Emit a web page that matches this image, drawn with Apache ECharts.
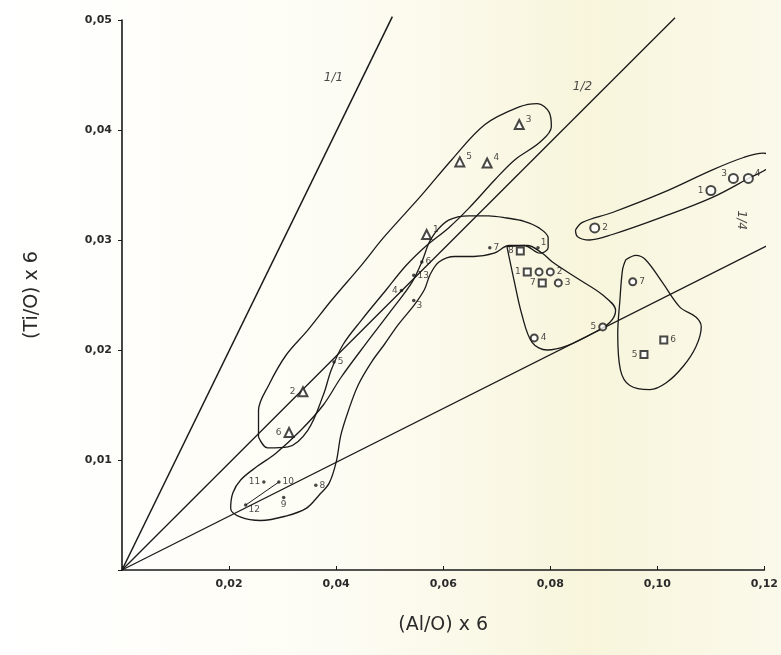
<!DOCTYPE html>
<html><head><meta charset="utf-8">
<script src="https://cdn.jsdelivr.net/npm/echarts@6/dist/echarts.min.js"></script>
<style>html,body{margin:0;padding:0;background:#fff}#c{width:781px;height:655px}</style>
</head><body><div id="c"></div><script>
// ---- axes ----
const xTicks = [0, 0.02, 0.04, 0.06, 0.08, 0.10, 0.12];
const yTicks = [0, 0.01, 0.02, 0.03, 0.04, 0.05];
const xName = '(Al/O) x 6';
const yName = '(Ti/O) x 6';

// ---- reference ratio lines (end points) ----
const line11 = [[0, 0], [0.0505, 0.0503]];
const line12 = [[0, 0], [0.1033, 0.0502]];
const line14 = [[0, 0], [0.1226, 0.0300]];
const lineLabels = ['1/1', '1/2', '1/4'];
const lineLabelX = [0.0395, 0.0860, 0.1157];
const lineLabelY = [0.0447, 0.0439, 0.0318];

// ---- triangles ----
const triLabels = ['3', '5', '4', '1', '2', '6'];
const triX = [0.0742, 0.0631, 0.0682, 0.0569, 0.0338, 0.0312];
const triY = [0.0405, 0.0371, 0.0370, 0.0305, 0.0162, 0.0125];

// ---- small dots ----
const dotLabels = ['7', '1', '6', '13', '4', '3', '5', '11', '10', '9', '8', '12'];
const dotX = [0.0687, 0.0777, 0.0560, 0.0545, 0.0522, 0.0545, 0.0396, 0.0265, 0.0293, 0.0302, 0.0362, 0.0231];
const dotY = [0.0293, 0.0293, 0.0280, 0.0268, 0.0254, 0.0245, 0.0189, 0.0080, 0.0080, 0.0066, 0.0077, 0.0059];
const tieX = [0.0231, 0.0293];
const tieY = [0.0059, 0.0080];

// ---- squares ----
const sqLabels = ['8', '1', '7', '5', '6'];
const sqX = [0.0744, 0.0757, 0.0785, 0.0975, 0.1012];
const sqY = [0.0290, 0.0271, 0.0261, 0.0196, 0.0209];

// ---- circles ----
const circLabels = ['', '2', '3', '4', '5', '7'];
const circX = [0.0779, 0.0800, 0.0815, 0.0770, 0.0898, 0.0954];
const circY = [0.0271, 0.0271, 0.0261, 0.0211, 0.0221, 0.0262];

// ---- double circles (right group) ----
const dblLabels = ['2', '1', '3', '4'];
const dblX = [0.0883, 0.1100, 0.1142, 0.1170];
const dblY = [0.0311, 0.0345, 0.0356, 0.0356];

// ---- enclosing outlines ----
const outlineTri = [[0.0255,0.0121],[0.0255,0.0145],[0.0274,0.0168],[0.0306,0.0195],[0.0347,0.0218],[0.0391,0.0245],[0.0447,0.0277],[0.0490,0.0303],[0.0560,0.0341],[0.0616,0.0373],[0.0678,0.0405],[0.0742,0.0421],[0.0776,0.0424],[0.0798,0.0416],[0.0802,0.0403],[0.0781,0.0389],[0.0734,0.0373],[0.0697,0.0355],[0.0648,0.0329],[0.0610,0.0311],[0.0569,0.0295],[0.0531,0.0277],[0.0494,0.0255],[0.0447,0.0227],[0.0413,0.0205],[0.0391,0.0182],[0.0376,0.0159],[0.0347,0.0127],[0.0310,0.0112],[0.0272,0.0111],[0.0255,0.0121]];
const outlineDots = [[0.0584,0.0306],[0.0610,0.0318],[0.0648,0.0322],[0.0685,0.0322],[0.0719,0.0320],[0.0751,0.0317],[0.0779,0.0311],[0.0796,0.0302],[0.0796,0.0293],[0.0781,0.0288],[0.0751,0.0295],[0.0723,0.0295],[0.0695,0.0288],[0.0657,0.0285],[0.0622,0.0285],[0.0592,0.0280],[0.0575,0.0268],[0.0565,0.0255],[0.0546,0.0241],[0.0516,0.0223],[0.0490,0.0205],[0.0466,0.0189],[0.0441,0.0168],[0.0423,0.0145],[0.0409,0.0123],[0.0400,0.0098],[0.0387,0.0079],[0.0368,0.0068],[0.0344,0.0056],[0.0306,0.0049],[0.0259,0.0045],[0.0222,0.0048],[0.0203,0.0056],[0.0207,0.0070],[0.0222,0.0082],[0.0252,0.0094],[0.0287,0.0106],[0.0334,0.0127],[0.0376,0.0150],[0.0409,0.0175],[0.0456,0.0206],[0.0503,0.0236],[0.0541,0.0261],[0.0560,0.0280],[0.0573,0.0297],[0.0584,0.0306]];
const outlineMid = [[0.0719,0.0294],[0.0732,0.0264],[0.0747,0.0232],[0.0766,0.0207],[0.0794,0.0200],[0.0832,0.0204],[0.0879,0.0215],[0.0911,0.0225],[0.0922,0.0236],[0.0898,0.0250],[0.0851,0.0265],[0.0804,0.0280],[0.0785,0.0288],[0.0757,0.0295],[0.0719,0.0294]];
const outlineLow = [[0.0941,0.0282],[0.0960,0.0286],[0.0978,0.0282],[0.1010,0.0261],[0.1042,0.0239],[0.1072,0.0230],[0.1082,0.0221],[0.1072,0.0203],[0.1048,0.0185],[0.1016,0.0170],[0.0986,0.0164],[0.0948,0.0168],[0.0931,0.0182],[0.0926,0.0215],[0.0930,0.0245],[0.0935,0.0273],[0.0941,0.0282]];
const outlineRight = [[0.0847,0.0309],[0.0860,0.0316],[0.0916,0.0325],[0.1010,0.0343],[0.1104,0.0364],[0.1161,0.0375],[0.1198,0.0379],[0.1213,0.0375],[0.1208,0.0366],[0.1174,0.0357],[0.1104,0.0339],[0.1010,0.0321],[0.0916,0.0305],[0.0873,0.0300],[0.0851,0.0303],[0.0847,0.0309]];

// ---- label placement (style only) ----
const triPos = ['tr', 'tr', 'tr', 'tr', 'l', 'l'];
const dotPos = ['r', 'tr', 'r', 'r', 'l', 'br', 'r', 'l', 'r', 'b', 'r', 'br'];
const sqPos = ['l', 'l', 'l', 'l', 'r'];
const circPos = ['r', 'r', 'r', 'r', 'l', 'r'];
const dblPos = ['r', 'l', 'tl', 'tr'];
const lineLabelRot = [0, 0, -90];

const INK = '#1a1a1a';
const FONT = 'DejaVu Sans';

function labelCfg(code) {
  const base = { show: true, color: INK, fontSize: 9, fontFamily: FONT, formatter: '{b}' };
  const m = {
    r: { position: 'right', distance: 2 },
    l: { position: 'left', distance: 2 },
    tr: { position: 'right', distance: 1, offset: [0, -5] },
    tl: { position: 'left', distance: 1, offset: [0, -5] },
    br: { position: 'right', distance: 1, offset: [0, 5] },
    b: { position: 'bottom', distance: 1 }
  };
  return Object.assign(base, m[code]);
}
function pts(xs, ys, labs, pos) {
  return xs.map((x, i) => ({ value: [x, ys[i]], name: labs[i], label: labelCfg(pos[i]) }));
}
function lineSeries(data, w) {
  return { type: 'line', data: data, symbol: 'none', clip: false, silent: true,
    lineStyle: { color: INK, width: w || 1.4 }, z: 2, animation: false };
}
function outline(data) {
  return { type: 'line', data: data, symbol: 'none', clip: false, silent: true, smooth: 0.35,
    lineStyle: { color: INK, width: 1.3 }, z: 2, animation: false };
}

const fmt = v => (v === 0 ? '' : v.toFixed(2).replace('.', ','));

const chart = echarts.init(document.getElementById('c'), null, { renderer: 'canvas' });
chart.setOption({
  animation: false,
  backgroundColor: {
    type: 'linear', x: 0, y: 0, x2: 1, y2: 0,
    colorStops: [
      { offset: 0, color: '#ffffff' }, { offset: 0.45, color: '#fdfcf3' },
      { offset: 0.75, color: '#f8f5dc' }, { offset: 1, color: '#fbf9ea' }
    ]
  },
  grid: { left: 122, right: 16, top: 20, bottom: 85, containLabel: false },
  xAxis: {
    type: 'value', min: 0, max: 0.12, interval: 0.02,
    name: xName, nameLocation: 'middle', nameGap: 46,
    nameTextStyle: { color: '#2a2a2a', fontSize: 19, fontFamily: FONT },
    axisLine: { lineStyle: { color: INK, width: 1.6 } },
    axisTick: { show: true, inside: true, length: 4, lineStyle: { color: INK } },
    axisLabel: { formatter: fmt, color: '#2a2a2a', fontSize: 11, fontWeight: 'bold', fontFamily: FONT, margin: 9 },
    splitLine: { show: false }
  },
  yAxis: {
    type: 'value', min: 0, max: 0.05, interval: 0.01,
    name: yName, nameLocation: 'middle', nameGap: 80, nameRotate: 90,
    nameTextStyle: { color: '#2a2a2a', fontSize: 19, fontFamily: FONT },
    axisLine: { show: true, lineStyle: { color: INK, width: 1.6 } },
    axisTick: { show: true, inside: false, length: 4, lineStyle: { color: INK } },
    axisLabel: { formatter: fmt, color: '#2a2a2a', fontSize: 11, fontWeight: 'bold', fontFamily: FONT, margin: 10 },
    splitLine: { show: false }
  },
  series: [
    lineSeries(line11, 1.5),
    lineSeries(line12, 1.3),
    lineSeries(line14, 1.3),
    lineSeries(tieX.map((x, i) => [x, tieY[i]]), 1),
    outline(outlineTri),
    outline(outlineDots),
    outline(outlineMid),
    outline(outlineLow),
    outline(outlineRight),
    {
      type: 'scatter', symbol: 'emptyTriangle', symbolSize: 9, z: 5, silent: true,
      itemStyle: { color: INK, borderWidth: 1.5 },
      data: pts(triX, triY, triLabels, triPos)
    },
    {
      type: 'scatter', symbol: 'circle', symbolSize: 3.5, z: 5, silent: true,
      itemStyle: { color: INK },
      data: pts(dotX, dotY, dotLabels, dotPos)
    },
    {
      type: 'scatter', symbol: 'emptyRect', symbolSize: 7, z: 5, silent: true,
      itemStyle: { color: INK, borderWidth: 1.3 },
      data: pts(sqX, sqY, sqLabels, sqPos)
    },
    {
      type: 'scatter', symbol: 'emptyCircle', symbolSize: 7, z: 5, silent: true,
      itemStyle: { color: INK, borderWidth: 1.3 },
      data: pts(circX, circY, circLabels, circPos)
    },
    {
      type: 'scatter', symbol: 'emptyCircle', symbolSize: 9, z: 5, silent: true,
      itemStyle: { color: INK, borderWidth: 2.6 },
      data: pts(dblX, dblY, dblLabels, dblPos)
    },
    {
      type: 'scatter', symbolSize: 0, z: 6, silent: true,
      data: lineLabelX.map((x, i) => ({
        value: [x, lineLabelY[i]], name: lineLabels[i],
        label: { show: true, position: 'inside', formatter: '{b}', color: INK, fontSize: 12,
          fontStyle: 'italic', fontFamily: FONT, rotate: lineLabelRot[i] }
      }))
    }
  ]
});
</script></body></html>
